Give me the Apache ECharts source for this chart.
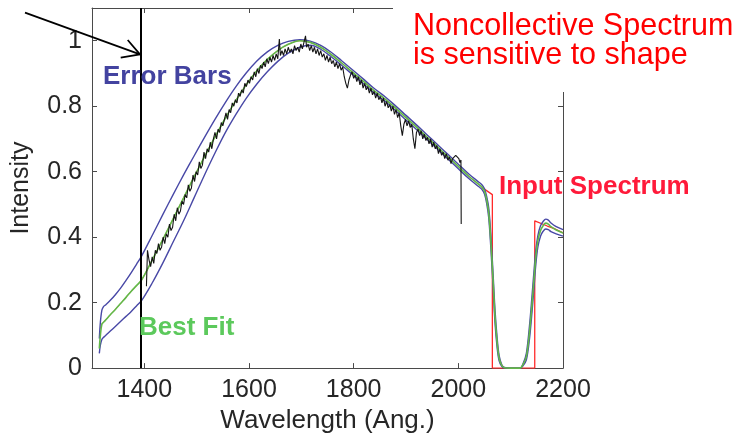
<!DOCTYPE html>
<html>
<head>
<meta charset="utf-8">
<script src="https://cdn.jsdelivr.net/npm/echarts@6/dist/echarts.min.js"></script>
<style>
html,body{margin:0;padding:0;background:#fff;}
#chart{width:750px;height:439px;}
</style>
</head>
<body>
<div id="chart"></div>
<script>
// ---- Data ----
const xTicks = [1400, 1600, 1800, 2000, 2200];
const yTicks = [0, 0.2, 0.4, 0.6, 0.8, 1];

// common wavelength grid of the smooth curves
const wl = [1314,1316,1319,1322,1325,1335,1345,1355,1365,1375,1385,1395,1415,1435,1455,1475,1495,1515,1535,1555,1575,1595,1615,1635,1655,1675,1697,1717,1737,1757,1777,1797,1817,1837,1860,1880,1900,1920,1940,1960,1980,2000,2020,2040,2045,2050,2054,2058,2062,2066,2070,2074,2078,2083,2088,2100,2118,2124,2130,2136,2141,2145,2148,2152,2157,2162,2167,2172,2177,2187,2200];
// best fit (green)
const bestFit = [.06,.10,.135,.14,.145,.163,.18,.198,.216,.235,.252,.27,.33,.392,.456,.52,.584,.646,.706,.764,.818,.866,.908,.943,.97,.989,1.0,.995,.98,.958,.932,.905,.878,.85,.822,.794,.765,.736,.706,.676,.646,.616,.586,.56,.553,.54,.515,.475,.39,.28,.16,.08,.03,.008,.001,0,0,.012,.035,.11,.2,.28,.34,.39,.42,.435,.443,.44,.432,.422,.413];
// error bar upper (blue)
const errHigh = [.09,.14,.178,.188,.192,.207,.225,.245,.268,.292,.317,.343,.405,.468,.530,.590,.648,.705,.760,.812,.860,.902,.938,.966,.986,.998,1.003,.999,.986,.965,.939,.912,.885,.857,.829,.801,.772,.743,.713,.683,.653,.623,.593,.567,.56,.548,.525,.49,.41,.30,.18,.095,.038,.01,.002,0,0,.015,.045,.13,.225,.305,.36,.405,.435,.448,.455,.452,.443,.432,.423];
// error bar lower (blue)
const errLow = [.045,.07,.088,.094,.098,.113,.128,.143,.158,.173,.19,.207,.26,.32,.385,.45,.52,.59,.657,.72,.775,.825,.868,.905,.937,.962,.98,.986,.974,.951,.925,.898,.871,.843,.815,.787,.758,.729,.699,.669,.639,.609,.579,.553,.546,.532,.505,.46,.37,.26,.14,.065,.022,.005,0,0,0,.008,.025,.09,.175,.255,.315,.37,.403,.418,.425,.423,.417,.41,.403];

// input spectrum (red): smooth part (hidden under the fit) and notch part
const inputMainWl  = [1316,1319,1322,1325,1335,1345,1355,1365,1375,1385,1395,1415,1435,1455,1475,1495,1515,1535,1555,1575,1595,1615,1635,1655,1675,1697,1717,1737,1757,1777,1797,1817,1837,1860,1880,1900,1920,1940,1960,1980,2000,2020,2040,2045];
const inputMainVal = [.12,.135,.14,.145,.163,.18,.198,.216,.235,.252,.27,.33,.392,.456,.52,.584,.646,.706,.764,.818,.866,.908,.943,.97,.989,1.0,.995,.98,.958,.932,.905,.878,.85,.822,.794,.765,.736,.706,.676,.646,.616,.586,.56,.553];
const inputNotchWl  = [2045,2065,2065,2146,2146,2170,2185,2200];
const inputNotchVal = [.552,.53,0,0,.45,.434,.425,.413];

// measured spectrum (black, noisy)
const dataWl = [1404,1406,1409,1412,1415,1418,1421,1424,1427,1430,1433,1436,1439,1442,1445,1448,1451,1454,1457,1460,1463,1466,1469,1472,1475,1478,1481,1484,1487,1490,1493,1496,1499,1502,1505,1508,1511,1514,1517,1520,1523,1526,1529,1532,1535,1538,1541,1544,1547,1550,1553,1556,1559,1562,1565,1568,1571,1574,1577,1580,1583,1586,1589,1592,1595,1598,1601,1604,1607,1610,1613,1616,1619,1622,1625,1628,1631,1634,1637,1640,1643,1646,1649,1652,1655,1658,1660,1663,1666,1669,1672,1675,1678,1681,1684,1687,1690,1693,1696,1699,1702,1705,1708,1710,1713,1716,1719,1722,1725,1728,1731,1734,1737,1740,1743,1746,1749,1752,1755,1758,1761,1764,1767,1770,1773,1776,1779,1782,1785,1788,1791,1794,1797,1800,1803,1806,1809,1812,1815,1818,1821,1824,1827,1830,1833,1836,1839,1842,1845,1848,1851,1854,1857,1860,1863,1866,1869,1872,1875,1878,1881,1884,1887,1890,1893,1896,1899,1902,1905,1908,1911,1914,1917,1920,1923,1926,1929,1932,1935,1938,1941,1944,1947,1950,1953,1956,1959,1962,1965,1968,1971,1974,1977,1980,1983,1986,1989,1992,1995,1998,2001,2003,2005,2005.5];
const dataVal = [.25,.36,.33,.31,.34,.32,.36,.35,.38,.36,.37,.40,.38,.41,.40,.44,.42,.43,.47,.45,.49,.47,.48,.51,.50,.53,.52,.56,.54,.55,.59,.57,.60,.59,.63,.61,.62,.66,.64,.67,.66,.69,.67,.70,.72,.70,.73,.72,.75,.74,.76,.78,.76,.79,.78,.81,.80,.82,.81,.84,.83,.85,.84,.87,.86,.88,.87,.89,.88,.905,.89,.915,.90,.925,.915,.935,.92,.945,.93,.95,.935,.955,.94,.96,.945,1.005,.955,.97,.955,.975,.96,.98,.965,.975,.96,.985,.97,.98,.965,.99,.975,.995,1.015,.98,.99,.97,.985,.965,.98,.96,.975,.955,.97,.95,.96,.94,.955,.935,.95,.93,.94,.92,.935,.915,.93,.91,.92,.89,.87,.855,.88,.895,.905,.885,.895,.875,.89,.865,.88,.855,.87,.85,.86,.84,.855,.835,.845,.825,.84,.82,.83,.81,.825,.80,.815,.795,.805,.785,.80,.775,.79,.765,.78,.74,.71,.745,.76,.74,.755,.735,.745,.70,.67,.72,.73,.71,.725,.70,.715,.695,.705,.685,.70,.675,.69,.67,.68,.655,.67,.65,.66,.64,.655,.635,.645,.625,.64,.635,.65,.648,.64,.628,.636,.44];

const markerWl = 1394; // vertical black line

// ---- Build chart ----
const zip = (xs, ys) => xs.map((x, i) => [x, ys[i]]);
const axisColor = '#4a4a4a';
const labelColor = '#262626';
const FONT = 'Liberation Sans, Arial, Helvetica, sans-serif';
const blue = '#4848a6';
const red = '#ff2a2a';
const SM = 0.35;

const chart = echarts.init(document.getElementById('chart'), null, {renderer: 'canvas'});
const option = {
  animation: false,
  backgroundColor: '#ffffff',
  grid: {left: 92, top: 8, right: 187, bottom: 69, containLabel: false},
  xAxis: [{
    type: 'value', position: 'bottom', min: 1300, max: 2200,
    name: 'Wavelength (Ang.)', nameLocation: 'middle', nameGap: 37,
    nameTextStyle: {fontFamily: FONT, fontSize: 26, color: labelColor},
    axisLine: {show: true, onZero: false, lineStyle: {color: axisColor, width: 1}},
    axisTick: {show: true, inside: true, length: 5, customValues: xTicks, lineStyle: {color: axisColor}},
    axisLabel: {show: true, customValues: xTicks, margin: 10, fontFamily: FONT, fontSize: 25, color: labelColor,
                formatter: v => String(v)},
    splitLine: {show: false}
  }, {
    type: 'value', position: 'top', min: 1300, max: 2200,
    axisLine: {show: true, onZero: false, lineStyle: {color: axisColor, width: 1}},
    axisTick: {show: true, inside: true, length: 5, customValues: xTicks, lineStyle: {color: axisColor}},
    axisLabel: {show: false},
    splitLine: {show: false}
  }],
  yAxis: [{
    type: 'value', position: 'left', min: 0, max: 1.1,
    name: 'Intensity', nameLocation: 'middle', nameGap: 58, nameRotate: 90,
    nameTextStyle: {fontFamily: FONT, fontSize: 25, color: labelColor},
    axisLine: {show: true, onZero: false, lineStyle: {color: axisColor, width: 1}},
    axisTick: {show: true, inside: true, length: 5, customValues: yTicks, lineStyle: {color: axisColor}},
    axisLabel: {show: true, customValues: yTicks, margin: 10, fontFamily: FONT, fontSize: 25, color: labelColor,
                formatter: v => String(v)},
    splitLine: {show: false}
  }, {
    type: 'value', position: 'right', min: 0, max: 1.1,
    axisLine: {show: true, onZero: false, lineStyle: {color: axisColor, width: 1}},
    axisTick: {show: true, inside: true, length: 5, customValues: yTicks, lineStyle: {color: axisColor}},
    axisLabel: {show: false},
    splitLine: {show: false}
  }],
  series: [
    {name: 'Input Spectrum', type: 'line', data: zip(inputMainWl, inputMainVal), smooth: SM,
     symbol: 'none', lineStyle: {color: red, width: 0.8}, z: 2},
    {name: 'Input Spectrum', type: 'line', data: zip(inputNotchWl, inputNotchVal), symbol: 'none',
     lineStyle: {color: red, width: 1.3}, z: 2},
    {name: 'Error High', type: 'line', data: zip(wl, errHigh), smooth: SM, symbol: 'none',
     lineStyle: {color: blue, width: 1.4}, z: 3},
    {name: 'Error Low', type: 'line', data: zip(wl, errLow), smooth: SM, symbol: 'none',
     lineStyle: {color: blue, width: 1.4}, z: 3},
    {name: 'Best Fit', type: 'line', data: zip(wl, bestFit), smooth: SM, symbol: 'none',
     lineStyle: {color: '#62b848', width: 1.6}, z: 4},
    {name: 'Data', type: 'line', data: zip(dataWl, dataVal), symbol: 'none',
     lineStyle: {color: '#151515', width: 1.1}, z: 5,
     markLine: {silent: true, symbol: ['none', 'none'], label: {show: false},
       lineStyle: {color: '#000', width: 2, type: 'solid'},
       data: [{xAxis: markerWl}]}}
  ],
  graphic: [
    {type: 'rect', z: 100, shape: {x: 393, y: 0, width: 357, height: 92}, style: {fill: '#ffffff'}},
    {type: 'line', z: 101, shape: {x1: 25, y1: 12.7, x2: 140, y2: 54.3}, style: {stroke: '#000', lineWidth: 1.8}},
    {type: 'polyline', z: 101, shape: {points: [[127.7, 40], [140, 54.3], [120.7, 57.7]]}, style: {stroke: '#000', lineWidth: 1.8, fill: null}},
    {type: 'text', z: 102, style: {x: 103, y: 77, text: 'Error Bars', font: 'bold 26px ' + FONT, fill: '#4343a0', verticalAlign: 'middle', align: 'left'}},
    {type: 'text', z: 102, style: {x: 139, y: 328, text: 'Best Fit', font: 'bold 26px ' + FONT, fill: '#5cc95c', verticalAlign: 'middle', align: 'left'}},
    {type: 'text', z: 102, style: {x: 499, y: 187, text: 'Input Spectrum', font: 'bold 26px ' + FONT, fill: '#ff1a3a', verticalAlign: 'middle', align: 'left'}},
    {type: 'text', z: 102, style: {x: 413, y: 27, text: 'Noncollective Spectrum', font: '30.5px ' + FONT, fill: '#ff0000', verticalAlign: 'middle', align: 'left'}},
    {type: 'text', z: 102, style: {x: 413, y: 56, text: 'is sensitive to shape', font: '30.5px ' + FONT, fill: '#ff0000', verticalAlign: 'middle', align: 'left'}}
  ]
};
chart.setOption(option);
</script>
</body>
</html>
